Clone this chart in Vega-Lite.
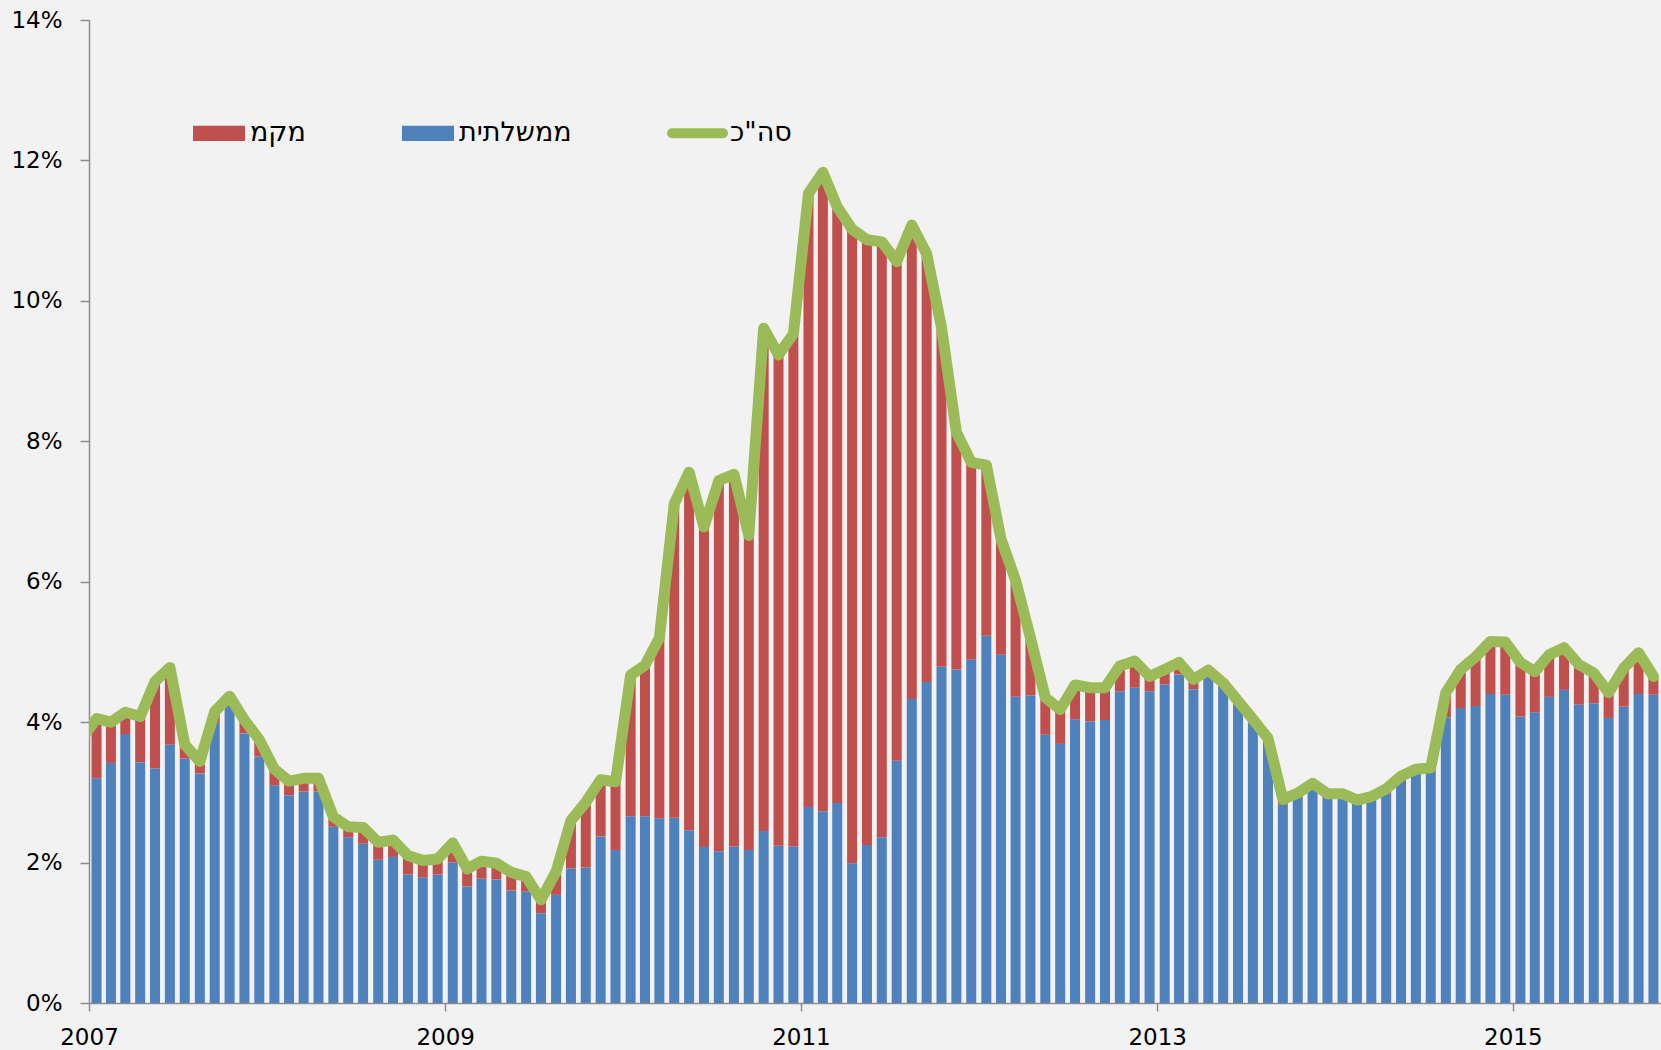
{
  "$schema": "https://vega.github.io/schema/vega-lite/v6.json",
  "width": 1572,
  "height": 983,
  "autosize": {"type": "none"},
  "padding": {"left": 89, "top": 20, "right": 0, "bottom": 47},
  "background": "#f2f2f2",
  "config": {
    "view": {"stroke": null},
    "font": "DejaVu Sans",
    "axis": {
      "grid": false,
      "domainColor": "#8c8c8c",
      "domainWidth": 1.5,
      "tickColor": "#8c8c8c",
      "tickWidth": 1.5,
      "labelColor": "#000000",
      "labelFont": "DejaVu Sans",
      "labelFontSize": 23,
      "title": null
    }
  },
  "data": {
    "values": [
      {"month": "2006-12", "gov": null, "total": 3.75},
      {"month": "2007-01", "gov": 3.20, "total": 4.05},
      {"month": "2007-02", "gov": 3.42, "total": 4.00},
      {"month": "2007-03", "gov": 3.83, "total": 4.14},
      {"month": "2007-04", "gov": 3.43, "total": 4.08},
      {"month": "2007-05", "gov": 3.34, "total": 4.58},
      {"month": "2007-06", "gov": 3.68, "total": 4.78},
      {"month": "2007-07", "gov": 3.48, "total": 3.68},
      {"month": "2007-08", "gov": 3.27, "total": 3.44},
      {"month": "2007-09", "gov": 3.99, "total": 4.15},
      {"month": "2007-10", "gov": 4.25, "total": 4.37},
      {"month": "2007-11", "gov": 3.84, "total": 4.03},
      {"month": "2007-12", "gov": 3.51, "total": 3.75},
      {"month": "2008-01", "gov": 3.10, "total": 3.33},
      {"month": "2008-02", "gov": 2.96, "total": 3.16},
      {"month": "2008-03", "gov": 3.01, "total": 3.20},
      {"month": "2008-04", "gov": 3.01, "total": 3.20},
      {"month": "2008-05", "gov": 2.51, "total": 2.65},
      {"month": "2008-06", "gov": 2.36, "total": 2.51},
      {"month": "2008-07", "gov": 2.27, "total": 2.50},
      {"month": "2008-08", "gov": 2.04, "total": 2.29},
      {"month": "2008-09", "gov": 2.08, "total": 2.32},
      {"month": "2008-10", "gov": 1.83, "total": 2.10},
      {"month": "2008-11", "gov": 1.79, "total": 2.03},
      {"month": "2008-12", "gov": 1.83, "total": 2.05},
      {"month": "2009-01", "gov": 2.00, "total": 2.28},
      {"month": "2009-02", "gov": 1.66, "total": 1.91},
      {"month": "2009-03", "gov": 1.77, "total": 2.02},
      {"month": "2009-04", "gov": 1.76, "total": 1.99},
      {"month": "2009-05", "gov": 1.60, "total": 1.86},
      {"month": "2009-06", "gov": 1.59, "total": 1.80},
      {"month": "2009-07", "gov": 1.28, "total": 1.47},
      {"month": "2009-08", "gov": 1.54, "total": 1.87},
      {"month": "2009-09", "gov": 1.92, "total": 2.60},
      {"month": "2009-10", "gov": 1.93, "total": 2.86},
      {"month": "2009-11", "gov": 2.37, "total": 3.18},
      {"month": "2009-12", "gov": 2.18, "total": 3.15},
      {"month": "2010-01", "gov": 2.66, "total": 4.67},
      {"month": "2010-02", "gov": 2.66, "total": 4.81},
      {"month": "2010-03", "gov": 2.63, "total": 5.20},
      {"month": "2010-04", "gov": 2.64, "total": 7.11},
      {"month": "2010-05", "gov": 2.46, "total": 7.56},
      {"month": "2010-06", "gov": 2.22, "total": 6.78},
      {"month": "2010-07", "gov": 2.16, "total": 7.44},
      {"month": "2010-08", "gov": 2.23, "total": 7.53},
      {"month": "2010-09", "gov": 2.18, "total": 6.66},
      {"month": "2010-10", "gov": 2.45, "total": 9.61},
      {"month": "2010-11", "gov": 2.24, "total": 9.23},
      {"month": "2010-12", "gov": 2.23, "total": 9.53},
      {"month": "2011-01", "gov": 2.79, "total": 11.53},
      {"month": "2011-02", "gov": 2.73, "total": 11.83},
      {"month": "2011-03", "gov": 2.85, "total": 11.34},
      {"month": "2011-04", "gov": 1.99, "total": 11.02},
      {"month": "2011-05", "gov": 2.25, "total": 10.87},
      {"month": "2011-06", "gov": 2.36, "total": 10.84},
      {"month": "2011-07", "gov": 3.45, "total": 10.56},
      {"month": "2011-08", "gov": 4.33, "total": 11.08},
      {"month": "2011-09", "gov": 4.57, "total": 10.67},
      {"month": "2011-10", "gov": 4.79, "total": 9.62},
      {"month": "2011-11", "gov": 4.75, "total": 8.13},
      {"month": "2011-12", "gov": 4.89, "total": 7.70},
      {"month": "2012-01", "gov": 5.23, "total": 7.66},
      {"month": "2012-02", "gov": 4.96, "total": 6.61},
      {"month": "2012-03", "gov": 4.36, "total": 6.02},
      {"month": "2012-04", "gov": 4.38, "total": 5.20},
      {"month": "2012-05", "gov": 3.82, "total": 4.35},
      {"month": "2012-06", "gov": 3.69, "total": 4.18},
      {"month": "2012-07", "gov": 4.04, "total": 4.53},
      {"month": "2012-08", "gov": 4.01, "total": 4.49},
      {"month": "2012-09", "gov": 4.03, "total": 4.49},
      {"month": "2012-10", "gov": 4.44, "total": 4.80},
      {"month": "2012-11", "gov": 4.49, "total": 4.87},
      {"month": "2012-12", "gov": 4.44, "total": 4.65},
      {"month": "2013-01", "gov": 4.54, "total": 4.75},
      {"month": "2013-02", "gov": 4.68, "total": 4.85},
      {"month": "2013-03", "gov": 4.47, "total": 4.61},
      {"month": "2013-04", "gov": 4.66, "total": 4.74},
      {"month": "2013-05", "gov": 4.50, "total": 4.56},
      {"month": "2013-06", "gov": 4.25, "total": 4.30},
      {"month": "2013-07", "gov": 4.00, "total": 4.04},
      {"month": "2013-08", "gov": 3.73, "total": 3.77},
      {"month": "2013-09", "gov": 2.83, "total": 2.90},
      {"month": "2013-10", "gov": 2.92, "total": 2.99},
      {"month": "2013-11", "gov": 3.06, "total": 3.13},
      {"month": "2013-12", "gov": 2.92, "total": 2.98},
      {"month": "2014-01", "gov": 2.92, "total": 2.98},
      {"month": "2014-02", "gov": 2.84, "total": 2.89},
      {"month": "2014-03", "gov": 2.89, "total": 2.94},
      {"month": "2014-04", "gov": 2.98, "total": 3.05},
      {"month": "2014-05", "gov": 3.16, "total": 3.23},
      {"month": "2014-06", "gov": 3.26, "total": 3.33},
      {"month": "2014-07", "gov": 3.29, "total": 3.35},
      {"month": "2014-08", "gov": 4.07, "total": 4.42},
      {"month": "2014-09", "gov": 4.20, "total": 4.75},
      {"month": "2014-10", "gov": 4.23, "total": 4.93},
      {"month": "2014-11", "gov": 4.40, "total": 5.15},
      {"month": "2014-12", "gov": 4.39, "total": 5.14},
      {"month": "2015-01", "gov": 4.08, "total": 4.85},
      {"month": "2015-02", "gov": 4.14, "total": 4.72},
      {"month": "2015-03", "gov": 4.36, "total": 4.96},
      {"month": "2015-04", "gov": 4.46, "total": 5.06},
      {"month": "2015-05", "gov": 4.25, "total": 4.82},
      {"month": "2015-06", "gov": 4.27, "total": 4.70},
      {"month": "2015-07", "gov": 4.06, "total": 4.42},
      {"month": "2015-08", "gov": 4.22, "total": 4.77},
      {"month": "2015-09", "gov": 4.40, "total": 4.99},
      {"month": "2015-10", "gov": 4.39, "total": 4.65}
    ]
  },
  "encoding": {
    "x": {
      "field": "month",
      "timeUnit": "utcyearmonth",
      "type": "temporal",
      "bandPosition": 0.5,
      "scale": {
        "domain": [
          {"year": 2007, "month": 1, "date": 1, "utc": true},
          {"year": 2015, "month": 11, "date": 1, "utc": true}
        ],
        "nice": false
      },
      "axis": {
        "values": [
          {"year": 2007, "month": 1, "date": 1, "utc": true},
          {"year": 2009, "month": 1, "date": 1, "utc": true},
          {"year": 2011, "month": 1, "date": 1, "utc": true},
          {"year": 2013, "month": 1, "date": 1, "utc": true},
          {"year": 2015, "month": 1, "date": 1, "utc": true}
        ],
        "labelExpr": "utcFormat(datum.value, '%Y')",
        "tickSize": 8,
        "labelPadding": 15,
        "labelAlign": "center",
        "labelFlush": false,
        "labelOverlap": false
      }
    }
  },
  "layer": [
    {
      "transform": [{"filter": "datum.gov != null"}],
      "mark": {"type": "bar", "width": 10, "clip": true},
      "encoding": {
        "y": {
          "field": "gov",
          "type": "quantitative",
          "stack": null,
          "scale": {"domain": [0, 14], "nice": false},
          "axis": {
            "values": [0, 2, 4, 6, 8, 10, 12, 14],
            "labelExpr": "datum.value + '%'",
            "tickSize": 9,
            "labelPadding": 18
          }
        },
        "color": {
          "datum": "ממשלתית",
          "type": "nominal",
          "scale": {"domain": ["מקמ", "ממשלתית"], "range": ["#c0504d", "#4f81bd"]},
          "legend": {
            "orient": "none",
            "legendX": 104,
            "legendY": 87.3,
            "direction": "horizontal",
            "title": null,
            "padding": 0,
            "symbolType": "M-1,-0.294H1V0.294H-1Z",
            "symbolSize": 2704,
            "symbolStrokeWidth": 0,
            "symbolOpacity": 1,
            "labelFont": "DejaVu Sans",
            "labelFontSize": 27,
            "labelColor": "#000000",
            "labelOffset": 5,
            "columnPadding": 96
          }
        }
      }
    },
    {
      "transform": [{"filter": "datum.gov != null"}],
      "mark": {"type": "bar", "width": 10, "clip": true},
      "encoding": {
        "y": {"field": "total", "type": "quantitative", "stack": null},
        "y2": {"field": "gov"},
        "color": {"datum": "מקמ", "type": "nominal"}
      }
    },
    {
      "mark": {"type": "line", "strokeWidth": 11, "strokeJoin": "round", "strokeCap": "round", "clip": true},
      "encoding": {
        "y": {"field": "total", "type": "quantitative"},
        "stroke": {
          "datum": "סה\"כ",
          "type": "nominal",
          "scale": {"domain": ["סה\"כ"], "range": ["#9bbb59"]},
          "legend": {
            "orient": "none",
            "legendX": 578,
            "legendY": 82.8,
            "direction": "horizontal",
            "title": null,
            "padding": 0,
            "symbolType": "M-1,0H1",
            "symbolSize": 2601,
            "symbolStrokeWidth": 10,
            "symbolOpacity": 1,
            "labelFont": "DejaVu Sans",
            "labelFontSize": 27,
            "labelColor": "#000000",
            "labelOffset": 2,
            "encode": {"symbols": {"update": {"strokeCap": {"value": "round"}}}}
          }
        }
      }
    }
  ]
}
